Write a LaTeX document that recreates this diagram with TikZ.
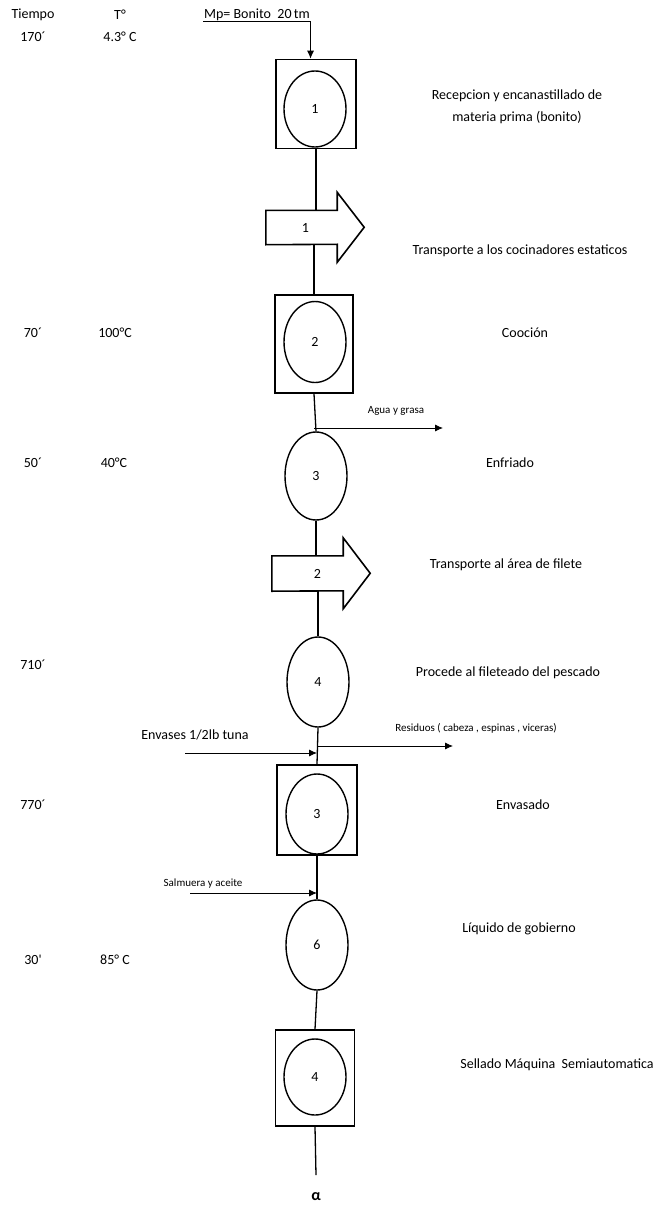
\documentclass[tikz,border=0pt]{standalone}
\usepackage{fontspec}
\setmainfont{Carlito}
\usetikzlibrary{shapes.geometric, arrows.meta}

\begin{document}
\begin{tikzpicture}[x=1pt, y=-1pt]
    % Common Styles
    \tikzset{inspect/.style={draw, rectangle, line width=1.6pt, minimum width=80pt, minimum height=90pt}}
    \tikzset{operation/.style={draw, ellipse, line width=1.4pt, minimum width=62pt, minimum height=80pt, inner sep=0pt, font=\fontsize{14}{17}\selectfont}}
    \tikzset{transport/.style={rectangle, minimum width=71pt, minimum height=34pt, inner sep=0pt}}
    \tikzset{flow/.style={line width=1.3pt}}
    \tikzset{side/.style={-{Latex[length=8pt, width=7pt]}, line width=0.8pt}}
    \tikzset{txt/.style={font=\fontsize{14}{17}\selectfont, inner sep=1pt}}
    \tikzset{small/.style={font=\fontsize{11}{13}\selectfont, inner sep=1pt}}

    \useasboundingbox (0,0) rectangle (665,1209);

    % Header
    \node[txt] (hT) at (33,15) {Tiempo};
    \node[txt] (hC) at (120,15) {T°};
    \node[txt, inner sep=0.5pt] (mp) at (257,15) {Mp= Bonito\ \ 20\,tm};

    % 1. Recepcion
    \node[inspect, minimum height=89pt] (I1) at (316,104) {};
    \node[operation, minimum height=76pt] (O1) at (315,109) {1};
    \node[txt, align=center] (d1) at (517,107) {Recepcion y encanastillado de\\[5pt]materia prima (bonito)};
    \node[txt] (t1) at (33,37) {170´};
    \node[txt] (c1) at (120,37) {4.3° C};
    \draw[line width=1.3pt] (mp.south west) -- (mp.south east);
    \draw[side, line width=1pt] (mp.south east) -- (mp.south east |- I1.north);

    % 2. Transporte 1
    \node[transport, label={[txt, xshift=4pt]center:1}] (T1) at (301.5,227.5) {};
    \draw[line width=1.6pt] (T1.north west) -- (T1.north east) -- ++(0,-18) -- ++(27,35) -- ++(-27,35) -- ++(0,-18) -- (T1.south west) -- cycle;
    \node[txt] (d2) at (520,251) {Transporte a los cocinadores estaticos};
    \draw[flow] (I1.south) -- (I1.south |- T1.north);

    % 3. Coocion
    \node[inspect, minimum width=78pt, minimum height=98pt] (I2) at (314,344) {};
    \node[operation, minimum height=81pt] (O2) at (315,342) {2};
    \node[txt] (d3) at (525,333) {Cooción};
    \node[txt] (t3) at (33,333) {70´};
    \node[txt] (c3) at (115,333) {100°C};
    \draw[flow] (I2.north |- T1.south) -- (I2.north);

    % 4. Enfriado
    \node[operation, minimum height=88pt] (O3) at (316,476) {3};
    \node[txt] (d4) at (510,463) {Enfriado};
    \node[txt] (t4) at (33,463) {50´};
    \node[txt] (c4) at (114,463) {40°C};
    \draw[flow] (I2.south) -- (O3.north);
    \coordinate (agua) at (443,428);
    \draw[side] (I2.south |- agua) -- (agua);
    \node[small] (a4) at (396,411) {Agua y grasa};

    % 5. Transporte 2
    \node[transport, minimum height=35pt, label={[txt, xshift=10pt]center:2}] (T2) at (307.5,573.5) {};
    \draw[line width=1.6pt] (T2.north west) -- (T2.north east) -- ++(0,-18) -- ++(27,35.5) -- ++(-27,35.5) -- ++(0,-18) -- (T2.south west) -- cycle;
    \node[txt] (d5) at (506,565) {Transporte al área de filete};
    \draw[flow] (O3.south) -- (O3.south |- T2.north);

    % 6. Fileteado
    \node[operation, minimum height=90pt] (O4) at (318,682) {4};
    \node[txt] (d6) at (508,673) {Procede al fileteado del pescado};
    \node[txt] (t6) at (33,665) {710´};
    \draw[flow] (O4.north |- T2.south) -- (O4.north);
    \coordinate (resid) at (453,746);
    \draw[side] (O4.south |- resid) -- (resid);
    \node[small] (a6) at (476,728) {Residuos ( cabeza , espinas , viceras)};

    % 7. Envasado
    \node[inspect, minimum height=90pt] (I3) at (317,810) {};
    \node[operation, minimum height=80pt] (O5) at (317,814) {3};
    \node[txt] (d7) at (523,805) {Envasado};
    \node[txt] (t7) at (33,805) {770´};
    \draw[flow] (O4.south) -- (I3.north);
    \coordinate (env) at (185,753);
    \draw[side] (env) -- (env -| I3.north);
    \node[txt] (a7) at (195,735) {Envases 1/2lb tuna};

    % 8. Liquido de gobierno
    \node[operation, minimum height=90pt] (O6) at (317,945) {6};
    \node[txt] (d8) at (519,929) {Líquido de gobierno};
    \node[txt] (t8) at (33,960) {30\textquotesingle};
    \node[txt] (c8) at (115,960) {85° C};
    \draw[flow] (I3.south) -- (O6.north);
    \coordinate (salm) at (190,893);
    \draw[side] (salm) -- (salm -| O6.north);
    \node[small] (a8) at (203,884) {Salmuera y aceite};

    % 9. Sellado
    \node[inspect, minimum width=79pt, minimum height=96pt] (I4) at (315,1078) {};
    \node[operation, minimum height=76pt] (O7) at (315,1077) {4};
    \node[txt] (d9) at (557,1065) {Sellado Máquina\ \ Semiautomatica};
    \draw[flow] (O6.south) -- (I4.north);
    \coordinate (fin) at (316,1175);
    \draw[flow] (I4.south) -- (fin);
    \node[font=\fontsize{16}{19}\selectfont\bfseries] (alfa) at (316,1197) {α};
\end{tikzpicture}
\end{document}
